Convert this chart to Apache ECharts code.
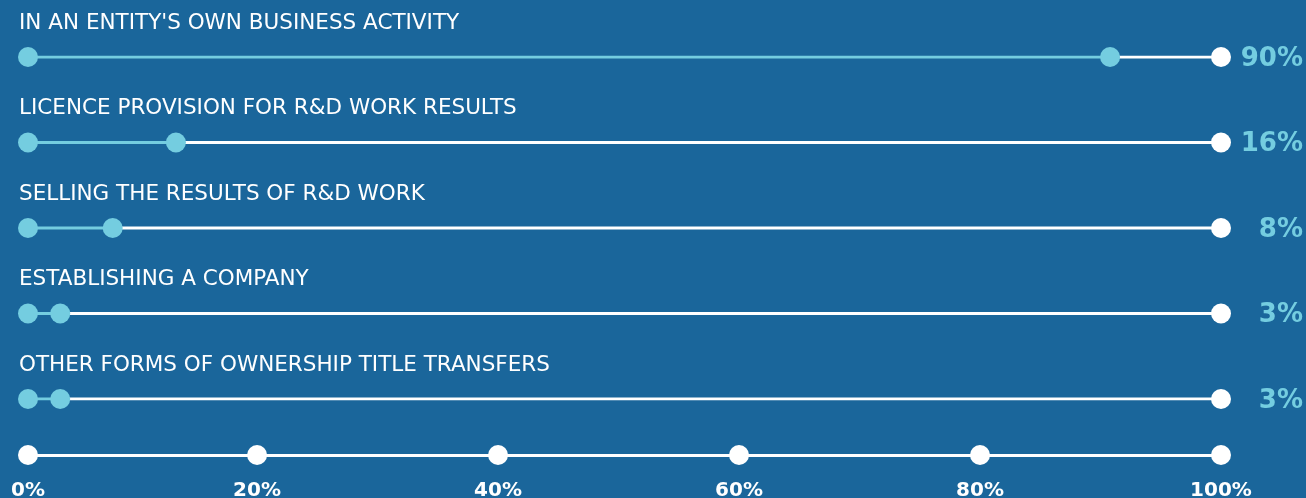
<!DOCTYPE html>
<html>
<head>
<meta charset="utf-8">
<script src="https://cdn.jsdelivr.net/npm/echarts@6/dist/echarts.min.js"></script>
<style>
html,body{margin:0;padding:0;background:#1a669b;}
#chart{width:1306px;height:498px;}
</style>
</head>
<body>
<div id="chart"></div>
<script>
const categories = [
  "IN AN ENTITY'S OWN BUSINESS ACTIVITY",
  "LICENCE PROVISION FOR R&D WORK RESULTS",
  "SELLING THE RESULTS OF R&D WORK",
  "ESTABLISHING A COMPANY",
  "OTHER FORMS OF OWNERSHIP TITLE TRANSFERS"
];
const positions = [90.7, 12.4, 7.1, 2.7, 2.7];
const valueLabels = ["90%", "16%", "8%", "3%", "3%"];
const tickPositions = [0, 19.2, 39.4, 59.6, 79.8, 100];
const tickLabels = ["0%", "20%", "40%", "60%", "80%", "100%"];

const LIGHT = '#74cde0';
const WHITE = '#ffffff';
const chart = echarts.init(document.getElementById('chart'));

const series = [];
categories.forEach((c, i) => {
  series.push({
    type: 'line', xAxisIndex: 0, yAxisIndex: 0, silent: true, symbol: 'none',
    data: [[0, i], [positions[i], i]],
    lineStyle: { color: LIGHT, width: 2.8 }, z: 2
  });
  series.push({
    type: 'line', xAxisIndex: 0, yAxisIndex: 0, silent: true, symbol: 'none',
    data: [[positions[i], i], [100, i]],
    lineStyle: { color: WHITE, width: 2.8 }, z: 2
  });
});
series.push({
  type: 'scatter', xAxisIndex: 0, yAxisIndex: 0, symbolSize: 20, silent: true, z: 5,
  itemStyle: { color: LIGHT, opacity: 1 },
  data: categories.map((c, i) => [0, i]),
  label: {
    show: true, position: [1, -24], align: 'left', verticalAlign: 'middle',
    formatter: p => categories[p.dataIndex],
    color: '#ffffff', fontFamily: 'DejaVu Sans', fontSize: 21.5
  }
});
series.push({
  type: 'scatter', xAxisIndex: 0, yAxisIndex: 0, symbolSize: 20, silent: true, z: 5,
  itemStyle: { color: LIGHT, opacity: 1 },
  data: positions.map((v, i) => [v, i])
});
series.push({
  type: 'scatter', xAxisIndex: 0, yAxisIndex: 0, symbolSize: 20, silent: true, z: 5,
  itemStyle: { color: WHITE, opacity: 1 },
  data: categories.map((c, i) => [100, i]),
  label: {
    show: true, position: [92, 12], align: 'right', verticalAlign: 'middle',
    formatter: p => valueLabels[p.dataIndex],
    color: LIGHT, fontFamily: 'DejaVu Sans', fontWeight: 'bold', fontSize: 26
  }
});
series.push({
  type: 'scatter', xAxisIndex: 1, yAxisIndex: 1, symbolSize: 20, silent: true, z: 5,
  itemStyle: { color: WHITE, opacity: 1 },
  data: tickPositions.map(t => [t, 0]),
  label: {
    show: true, position: 'bottom', distance: 16,
    formatter: p => tickLabels[p.dataIndex],
    color: WHITE, fontFamily: 'DejaVu Sans', fontWeight: 'bold', fontSize: 20
  }
});

chart.setOption({
  backgroundColor: '#1a669b',
  animation: false,
  grid: [
    { left: 28, right: 85, top: 57, height: 342 },
    { left: 28, right: 85, top: 435, bottom: 43 }
  ],
  xAxis: [
    { gridIndex: 0, type: 'value', min: 0, max: 100, show: false },
    { gridIndex: 1, type: 'value', min: 0, max: 100,
      axisLine: { show: true, lineStyle: { color: WHITE, width: 2.8 } },
      axisTick: { show: false }, splitLine: { show: false }, axisLabel: { show: false } }
  ],
  yAxis: [
    { gridIndex: 0, type: 'category', data: categories, inverse: true, boundaryGap: false, show: false },
    { gridIndex: 1, type: 'value', min: 0, max: 1, show: false }
  ],
  series: series
});
</script>
</body>
</html>
